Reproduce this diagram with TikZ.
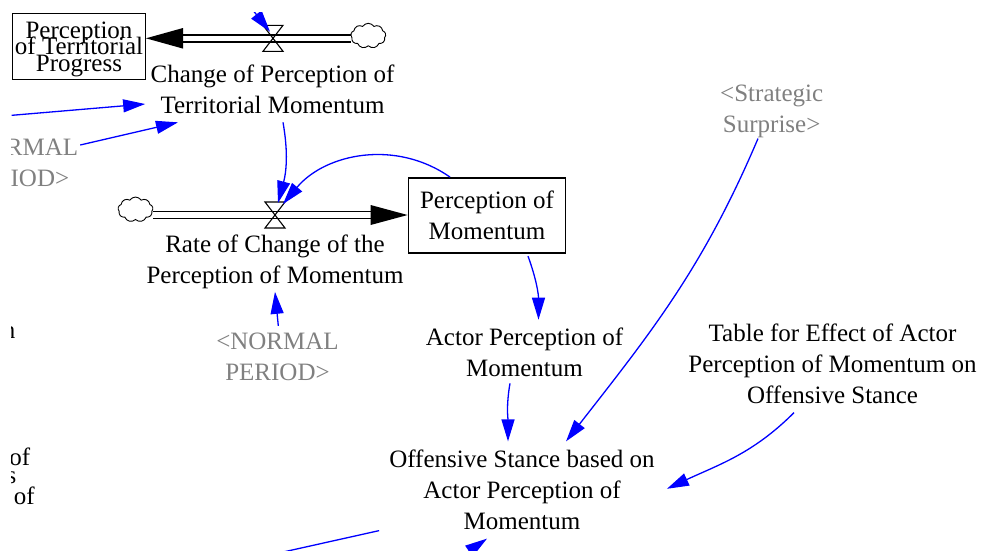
\documentclass[tikz,border=0pt]{standalone}
\usepackage{fontspec}
\setmainfont{Liberation Serif}
\usepackage{tikz}
\usetikzlibrary{shapes.symbols, arrows.meta}
\newcommand{\tightlines}{\fontsize{25}{16.5}\selectfont\lineskiplimit=-50pt\relax}

\begin{document}
\begin{tikzpicture}[
    x=1pt, y=-1pt,
    font=\fontsize{25}{31}\selectfont,
    auxvar/.style={align=center, inner sep=2pt},
    ghost/.style={auxvar, text=gray},
    stockbox/.style={rectangle, draw, line width=1.4pt, align=center, inner sep=0pt},
    sink/.style={cloud, cloud puffs=9, cloud puff arc=115, draw, line width=0.9pt,
                 minimum width=35pt, minimum height=25pt, inner sep=0pt},
    valvebox/.style={minimum width=20pt, minimum height=26pt, inner sep=0pt, outer sep=0pt},
    valveline/.style={line width=1.1pt},
    pipe/.style={double, double distance=5.2pt, line width=1.7pt, shorten >=36pt},
    frag/.style={anchor=base east, inner sep=0pt},
    arr/.style={draw=blue, line width=1.3pt, -{Triangle[length=22pt,width=13pt]}}
]
\useasboundingbox (0,0) rectangle (982,550);
\clip (11.5,12.5) rectangle (982,550);

\node[stockbox, minimum width=132.6pt, minimum height=66pt, text depth=0pt,
      font=\tightlines] (terrprog) at (79,46.3) {Perception\\of Territorial\\Progress};
\node[sink]     (cloudA)  at (368.3,35.8) {};
\node[valvebox] (valveA)  at (273,38.3)   {};
\node[auxvar]   (chgterr) at (272.5,89)   {Change of Perception of\\Territorial Momentum};

\node[stockbox, minimum width=157.4pt, minimum height=75pt] (perm) at (487,215.3) {Perception of\\Momentum};
\node[sink]     (cloudB)  at (135.5,209.5) {};
\node[valvebox] (valveB)  at (275,215)     {};
\node[auxvar]   (rate)    at (275,261.7)   {Rate of Change of the\\Perception of Momentum};

\node[ghost]  (nrm)    at (277.5,356.9) {<NORMAL\\PERIOD>};
\node[ghost]  (nrmL)   at (17,163.2)    {<NORMAL\\PERIOD>};
\node[ghost]  (strsur) at (771.7,110.9) {<Strategic\\Surprise>};
\node[auxvar] (actor)  at (524.5,352.3) {Actor Perception of\\Momentum};
\node[auxvar] (offst)  at (522,489.8)   {Offensive Stance based on\\Actor Perception of\\Momentum};
\node[auxvar] (table)  at (832.5,364.2) {Table for Effect of Actor\\Perception of Momentum on\\Offensive Stance};

\node[frag] (fragA) at (15.5,338) {n};
\node[frag] (fragB) at (30.5,465) {of};
\node[frag] (fragC) at (16.5,483.5) {s};
\node[frag] (fragD) at (35,504) {of};

\coordinate (endA) at (valveA -| terrprog.east);
\coordinate (endB) at (valveB -| perm.west);
\coordinate (offA) at (225,-25);
\coordinate (offB) at (-20,118);
\coordinate (offC) at (180,575);
\coordinate (offD) at (420,585);

% flows
\draw[pipe] (valveA -| cloudA.west) -- (endA);
\fill (endA) -- ++(37,-10.3) -- ++(0,20.6) -- cycle;
\draw[valveline] (valveA.north west) -- (valveA.north east) -- (valveA.south west) -- (valveA.south east) -- cycle;
\draw[pipe] (valveB -| cloudB.east) -- (endB);
\fill (endB) -- ++(-37,-10) -- ++(0,20) -- cycle;
\draw[valveline] (valveB.north west) -- (valveB.north east) -- (valveB.south west) -- (valveB.south east) -- cycle;

% links
\draw[arr] (offA) -- ([shift={(-3,6.4)}]valveA.north);
\draw[arr] (offB) -- ([shift={(-3.3,15)}]chgterr.west);
\draw[arr] ([shift={(-0.2,-18.2)}]nrmL.east) -- ([shift={(-94.5,6.7)}]chgterr.south);
\draw[arr] ([shift={(10.5,6.7)}]chgterr.south) to[out=-80,in=75] ([shift={(3,1)}]valveB.north);
\draw[arr] ([xshift=-37pt]perm.north) to[out=145,in=50] ([shift={(8,2)}]valveB.north);
\draw[arr] ([shift={(0.8,-5)}]nrm.north) -- ([shift={(0,1)}]rate.south);
\draw[arr] ([shift={(41,2.6)}]perm.south) to[out=-70,in=90] ([shift={(14,-6)}]actor.north);
\draw[arr] ([shift={(-14.5,4.4)}]actor.south) to[out=-100,in=90] ([shift={(-14,-6.3)}]offst.north);
\draw[arr] ([shift={(-13.7,-1)}]strsur.south) to[out=-113,in=52] ([shift={(44,-6.3)}]offst.north);
\draw[arr] ([shift={(-38.5,6.3)}]table.south) to[out=-135,in=25] ([shift={(10,-1)}]offst.east);
\draw[arr] ([shift={(-8,-1.3)}]offst.south west) -- (offC);
\draw[arr] (offD) -- ([shift={(-35,6.7)}]offst.south);
\end{tikzpicture}
\end{document}
